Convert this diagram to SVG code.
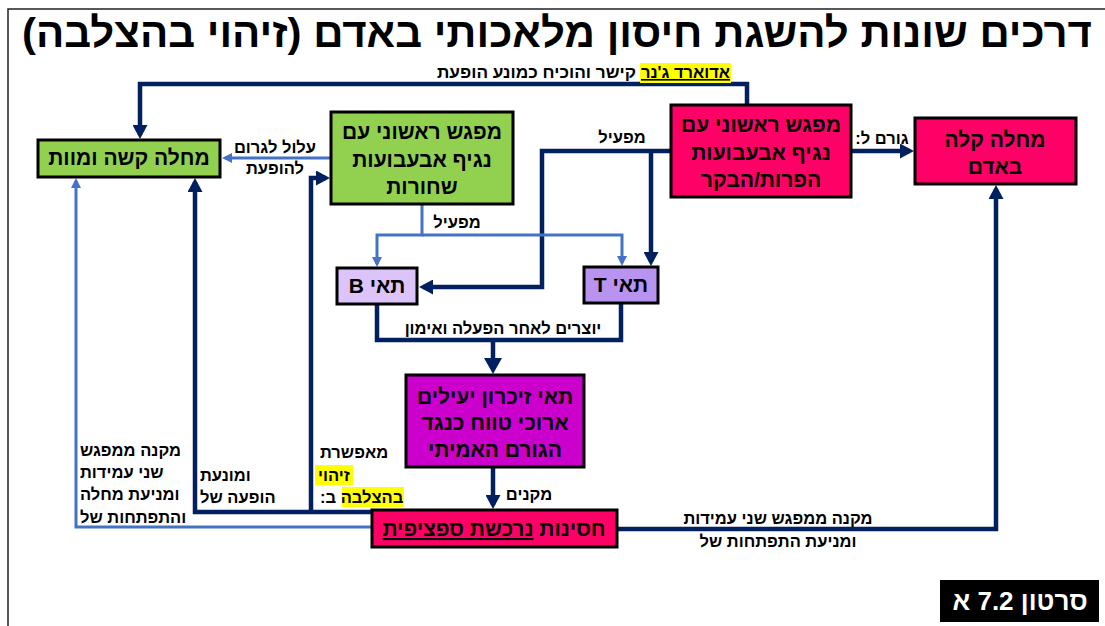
<svg xmlns="http://www.w3.org/2000/svg" width="1105" height="626" viewBox="0 0 1105 626">
<style>
.t{font-family:"Liberation Sans","Noto Sans",sans-serif;font-weight:bold;direction:rtl;unicode-bidi:embed;fill:#000}
.bt{font-size:21px;text-anchor:middle}
.lb{font-size:16.5px}
.mid{text-anchor:middle}
.lft{text-anchor:end}
.box{stroke:#000;stroke-width:3}
.dk{fill:none;stroke:#002060;stroke-width:4.5}
.lt{fill:none;stroke:#4472c4;stroke-width:3}
.hl{fill:#ffff00}
</style>
<defs>
<marker id="ad" markerUnits="userSpaceOnUse" viewBox="0 0 14 15" markerWidth="14" markerHeight="15" refX="10" refY="7.5" orient="auto"><path d="M0,0 L14,7.5 L0,15 z" fill="#002060"/></marker>
<marker id="ab" markerUnits="userSpaceOnUse" viewBox="0 0 16 18" markerWidth="16" markerHeight="18" refX="10" refY="9" orient="auto"><path d="M0,0 L16,9 L0,18 z" fill="#002060"/></marker>
<marker id="al" markerUnits="userSpaceOnUse" viewBox="0 0 10 10" markerWidth="10" markerHeight="10" refX="7" refY="5" orient="auto"><path d="M0,0 L10,5 L0,10 z" fill="#4472c4"/></marker>
</defs>
<rect width="1105" height="626" fill="#fff"/>
<path d="M8,626 V9 H1105" fill="none" stroke="#222" stroke-width="1.5"/>
<text class="t" x="557" y="47" font-size="41" text-anchor="middle" textLength="1070" lengthAdjust="spacingAndGlyphs">דרכים שונות להשגת חיסון מלאכותי באדם (זיהוי בהצלבה)</text>

<g id="connectors">
<path class="dk" d="M747,105 V84 H140 V135" marker-end="url(#ad)"/>
<path class="lt" d="M331,158 H225" marker-end="url(#al)"/>
<path class="dk" d="M670,151 H542 V287 H423" marker-end="url(#ad)"/>
<path class="dk" d="M651,151 V262" marker-end="url(#ad)"/>
<path class="dk" d="M851,151 H910" marker-end="url(#ad)"/>
<path class="lt" d="M422,205 V235 H377 V264" marker-end="url(#al)"/>
<path class="lt" d="M422,235 H622 V263" marker-end="url(#al)"/>
<path class="dk" d="M377,305 V340 H621 V303"/>
<path class="dk" stroke-width="6" d="M493,340 V368" marker-end="url(#ab)"/>
<path class="dk" d="M493,467 V505" marker-end="url(#ad)"/>
<path class="dk" d="M617,529 H996 V189" marker-end="url(#ad)"/>
<path class="dk" d="M372,512 H195 V182" marker-end="url(#ad)"/>
<path class="dk" d="M311,512 V178 H326" marker-end="url(#ad)"/>
<path class="lt" d="M372,527 H76 V181" marker-end="url(#al)"/>
</g>

<g id="labels">
<rect class="hl" x="640" y="63" width="91" height="20"/>
<text class="t" x="730" y="78" font-size="16" text-anchor="start" textLength="89" lengthAdjust="spacingAndGlyphs" text-decoration="underline">אדוארד ג'נר</text>
<text class="t" x="636" y="78" font-size="16" text-anchor="start" textLength="199" lengthAdjust="spacingAndGlyphs">קישר והוכיח כמונע הופעת</text>
<text class="t lb mid" x="275" y="153">עלול לגרום</text>
<text class="t lb mid" x="275" y="174">להופעת</text>
<text class="t lb mid" x="622" y="143">מפעיל</text>
<text class="t lb mid" x="457" y="228">מפעיל</text>
<text class="t lb mid" x="882" y="144" font-size="15">גורם ל:</text>
<text class="t lb mid" x="503" y="334">יוצרים לאחר הפעלה ואימון</text>
<text class="t lb mid" x="529" y="500">מקנים</text>
<text class="t lb mid" x="778" y="524">מקנה ממפגש שני עמידות</text>
<text class="t lb mid" x="778" y="547">ומניעת התפתחות של</text>
<text class="t lb lft" x="80" y="456">מקנה ממפגש</text>
<text class="t lb lft" x="80" y="478">שני עמידות</text>
<text class="t lb lft" x="80" y="500">ומניעת מחלה</text>
<text class="t lb lft" x="80" y="523">והתפתחות של</text>
<text class="t lb lft" x="200" y="481">ומונעת</text>
<text class="t lb lft" x="200" y="503">הופעה של</text>
<rect class="hl" x="315" y="465" width="38" height="20"/>
<rect class="hl" x="342" y="487" width="62" height="20"/>
<text class="t lb lft" x="320" y="458">מאפשרת</text>
<text class="t lb lft" x="318" y="481">זיהוי</text>
<text class="t lb lft" x="320" y="503">בהצלבה ב:</text>
</g>

<g id="n-severe">
<rect class="box" x="38" y="140" width="182" height="37" fill="#92d050"/>
<text class="t bt" x="129" y="165">מחלה קשה ומוות</text>
</g>
<g id="n-smallpox">
<rect class="box" x="331" y="112" width="182" height="92" fill="#92d050"/>
<text class="t bt" x="422" y="139">מפגש ראשוני עם</text>
<text class="t bt" x="422" y="167">נגיף אבעבועות</text>
<text class="t bt" x="422" y="194">שחורות</text>
</g>
<g id="n-cowpox">
<rect class="box" x="671" y="105" width="180" height="92" fill="#ff0066"/>
<text class="t bt" x="761" y="132">מפגש ראשוני עם</text>
<text class="t bt" x="761" y="160">נגיף אבעבועות</text>
<text class="t bt" x="761" y="187">הפרות/הבקר</text>
</g>
<g id="n-mild">
<rect class="box" x="915" y="118" width="161" height="66" fill="#ff0066"/>
<text class="t bt" x="995" y="147">מחלה קלה</text>
<text class="t bt" x="995" y="174">באדם</text>
</g>
<g id="n-bcell">
<rect class="box" x="337" y="268" width="80" height="36" fill="#dcc3fa"/>
<text class="t bt" x="377" y="293">תאי B</text>
</g>
<g id="n-tcell">
<rect class="box" x="584" y="267" width="74" height="36" fill="#b993f0"/>
<text class="t bt" x="621" y="292">תאי T</text>
</g>
<g id="n-memory">
<rect class="box" x="406" y="375" width="178" height="92" fill="#cc00cc"/>
<text class="t bt" x="495" y="404">תאי זיכרון יעילים</text>
<text class="t bt" x="495" y="430">ארוכי טווח כנגד</text>
<text class="t bt" x="495" y="457">הגורם האמיתי</text>
</g>
<g id="n-immunity">
<rect class="box" x="372" y="510" width="245" height="37" fill="#ff0066"/>
<text class="t bt" x="494" y="536">חסינות <tspan text-decoration="underline">נרכשת ספציפית</tspan></text>
</g>
<g id="n-clip">
<rect x="940" y="580" width="159" height="42" fill="#000"/>
<text class="t" x="1020" y="610" font-size="26" text-anchor="middle" fill="#fff" style="fill:#fff">סרטון 7.2 א</text>
</g>
</svg>
